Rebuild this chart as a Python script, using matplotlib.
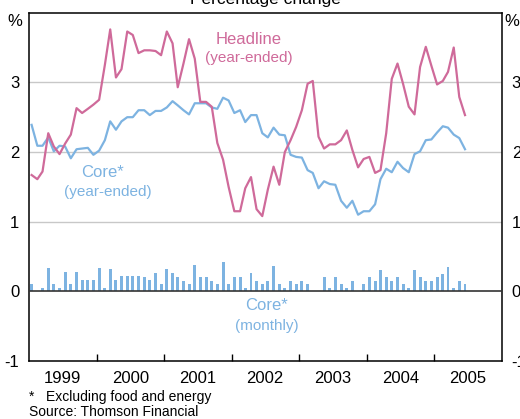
import numpy as np
import pandas as pd
import matplotlib
matplotlib.use('Agg')
import matplotlib.pyplot as plt
import matplotlib.dates as mdates

plt.rcParams['font.family'] = ['Liberation Sans', 'DejaVu Sans']

# Monthly data, Jan 1999 - Jun 2005 (values in %)
months = pd.date_range('1999-01-01', '2005-06-01', freq='MS') + pd.Timedelta(days=14)

headline = [1.67, 1.61, 1.72, 2.27, 2.08, 1.97, 2.12, 2.25, 2.63, 2.56,
            2.62, 2.68, 2.75, 3.25, 3.76, 3.07, 3.19, 3.73, 3.68, 3.42,
            3.46, 3.46, 3.45, 3.39, 3.73, 3.56, 2.93, 3.27, 3.62, 3.34,
            2.72, 2.72, 2.65, 2.13, 1.89, 1.50, 1.15, 1.15, 1.48, 1.64,
            1.18, 1.08, 1.46, 1.79, 1.53, 2.00, 2.17, 2.36, 2.60, 2.98,
            3.02, 2.22, 2.05, 2.11, 2.11, 2.17, 2.31, 2.03, 1.78, 1.90,
            1.93, 1.70, 1.74, 2.27, 3.05, 3.27, 2.98, 2.65, 2.54, 3.22,
            3.51, 3.24, 2.97, 3.02, 3.15, 3.50, 2.79, 2.53]

core_ye = [2.39, 2.09, 2.09, 2.21, 2.01, 2.09, 2.08, 1.91, 2.04, 2.05,
           2.06, 1.96, 2.02, 2.17, 2.44, 2.32, 2.44, 2.50, 2.50, 2.60,
           2.60, 2.53, 2.59, 2.59, 2.64, 2.73, 2.67, 2.60, 2.54, 2.70,
           2.70, 2.70, 2.64, 2.62, 2.78, 2.74, 2.56, 2.60, 2.43, 2.53,
           2.53, 2.27, 2.21, 2.35, 2.25, 2.24, 1.96, 1.93, 1.92, 1.74,
           1.70, 1.48, 1.58, 1.54, 1.53, 1.30, 1.20, 1.30, 1.10, 1.15,
           1.15, 1.25, 1.61, 1.76, 1.71, 1.86, 1.77, 1.71, 1.97, 2.01,
           2.17, 2.18, 2.28, 2.37, 2.35, 2.25, 2.20, 2.04]

core_monthly = [0.11, 0.0, 0.05, 0.34, 0.11, 0.05, 0.28, 0.11, 0.28, 0.17,
                0.17, 0.17, 0.34, 0.05, 0.32, 0.17, 0.22, 0.22, 0.22, 0.22,
                0.21, 0.17, 0.27, 0.11, 0.32, 0.27, 0.21, 0.15, 0.11, 0.38,
                0.21, 0.21, 0.15, 0.11, 0.42, 0.11, 0.21, 0.21, 0.05, 0.27,
                0.15, 0.10, 0.15, 0.37, 0.10, 0.05, 0.15, 0.10, 0.15, 0.10,
                0.0, 0.0, 0.21, 0.05, 0.21, 0.10, 0.05, 0.15, 0.0, 0.10,
                0.20, 0.15, 0.31, 0.20, 0.15, 0.20, 0.10, 0.05, 0.30, 0.20,
                0.15, 0.15, 0.20, 0.25, 0.35, 0.05, 0.15, 0.10]

year_labels = ['1999', '2000', '2001', '2002', '2003', '2004', '2005']

pink = '#cf6a9a'
blue = '#7db3e1'

fig = plt.figure(figsize=(5.2, 4.19), dpi=100)
ax = fig.add_axes([0.0558, 0.1384, 0.9096, 0.8313])

# grid + zero line
for yv in [1, 2, 3]:
    ax.axhline(yv, color='#c8c8c8', lw=1, zorder=0)
ax.axhline(0, color='#333333', lw=1.2, zorder=3)

ax.bar(months, core_monthly, width=16, color=blue, zorder=2)
ax.plot(months, core_ye, color=blue, lw=1.6, zorder=4)
ax.plot(months, headline, color=pink, lw=1.6, zorder=5)

ax.set_xlim(pd.Timestamp('1999-01-01'), pd.Timestamp('2006-01-01'))
ax.set_ylim(-1, 4)

# year ticks at boundaries, labels mid-year
ax.set_xticks([pd.Timestamp(f'{y}-01-01') for y in range(2000, 2006)])
ax.set_xticklabels([])
ax.set_xticks([pd.Timestamp(f'{y}-07-01') for y in year_labels], minor=True)
ax.set_xticklabels(year_labels, minor=True, fontsize=12)
ax.tick_params(axis='x', which='major', direction='in', length=5, width=1)
ax.tick_params(axis='x', which='minor', length=0, pad=7)

ax.set_yticks([-1, 0, 1, 2, 3])
ax.set_yticklabels(['-1', '0', '1', '2', '3'], fontsize=12)
ax.tick_params(axis='y', length=0, pad=7, labelleft=True, labelright=True)

for s in ax.spines.values():
    s.set_linewidth(1.1)
    s.set_color('black')

# annotations
ax.text(pd.Timestamp('2002-04-01'), 3.61, 'Headline', color=pink, fontsize=12,
        ha='center', va='center')
ax.text(pd.Timestamp('2002-04-01'), 3.35, '(year-ended)', color=pink, fontsize=11,
        ha='center', va='center')
ax.text(pd.Timestamp('2000-02-01'), 1.71, 'Core*', color=blue, fontsize=12,
        ha='center', va='center')
ax.text(pd.Timestamp('2000-03-01'), 1.43, '(year-ended)', color=blue, fontsize=11,
        ha='center', va='center')
ax.text(pd.Timestamp('2002-07-08'), -0.21, 'Core*', color=blue, fontsize=12,
        ha='center', va='center')
ax.text(pd.Timestamp('2002-07-08'), -0.5, '(monthly)', color=blue, fontsize=11,
        ha='center', va='center')

fig.text(0.028, 0.948, '%', fontsize=12, ha='center', va='center')
fig.text(0.985, 0.948, '%', fontsize=12, ha='center', va='center')
fig.text(0.51, 1 - 4 / 419, 'Percentage change', fontsize=12.5, ha='center',
         va='baseline')

fig.text(0.055, 1 - 397 / 419, '*   Excluding food and energy', fontsize=10,
         va='center')
fig.text(0.055, 1 - 412 / 419, 'Source: Thomson Financial', fontsize=10,
         va='center')

fig.savefig('out.png', dpi=100)
